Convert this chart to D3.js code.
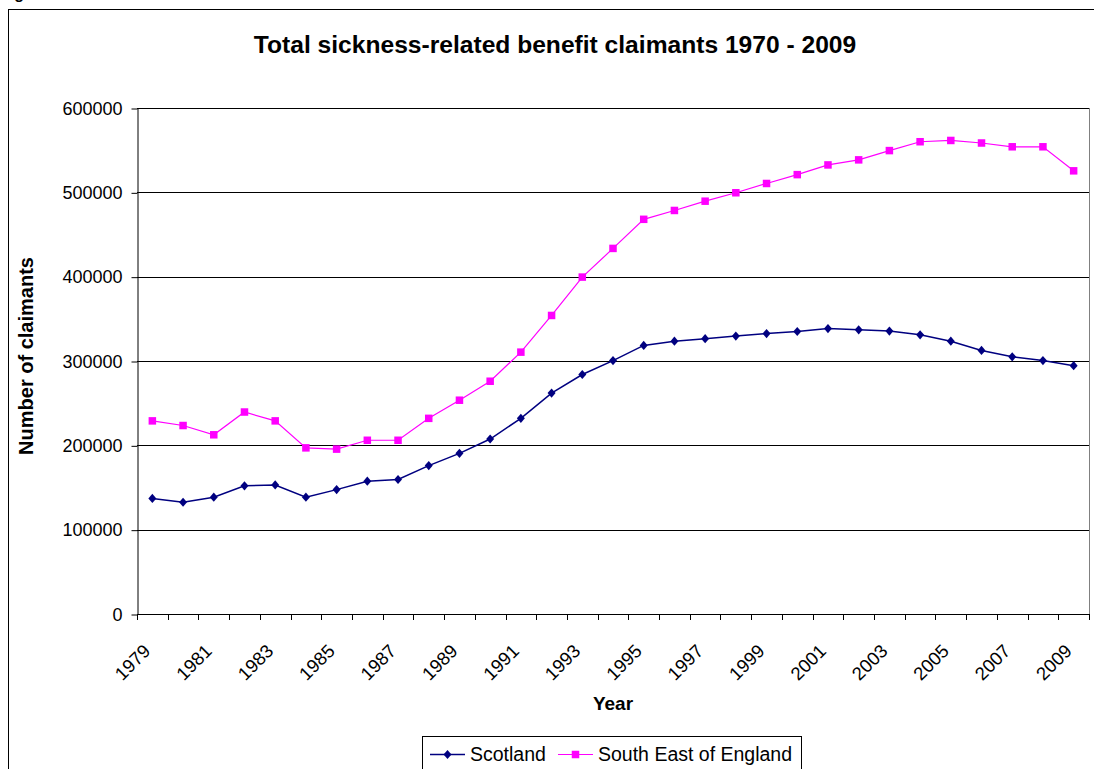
<!DOCTYPE html>
<html>
<head>
<meta charset="utf-8">
<script src="https://cdn.jsdelivr.net/npm/d3@7"></script>
<style>
  html, body { margin: 0; padding: 0; background: #fff; }
  svg { display: block; font-family: Arial, "Liberation Sans", sans-serif; }
</style>
</head>
<body>
<svg id="chart" width="1094" height="769"></svg>
<script>
// Claimant counts by year (1979–2009)
const years = d3.range(1979, 2010);
const scotland = [
  137000, 132500, 138500, 152000, 153000, 138500, 147500, 157500, 159500, 176000,
  190500, 207500, 232000, 262000, 284000, 300500, 318500, 323500, 326500, 329500,
  332500, 335000, 338500, 337000, 335500, 331000, 323500, 312500, 305000, 300500,
  294500
];
const southEast = [
  229000, 223500, 212500, 239500, 229000, 197000, 195500, 206000, 206000, 232000,
  253500, 276000, 310500, 354000, 399500, 433500, 468000, 478500, 489500, 499500,
  510500, 521000, 532500, 538500, 549500, 560000, 561500, 558500, 554000, 554000,
  525500
];
const yTicks = [0, 100000, 200000, 300000, 400000, 500000, 600000];
const seriesNames = ["Scotland", "South East of England"];
const seriesColors = ["#000080", "#FF00FF"];

const svg = d3.select("#chart");
const plot = { left: 137, right: 1089, top: 108, bottom: 614 };

// Outer chart frame (runs off the right and bottom edges)
svg.append("rect")
  .attr("x", 8.5).attr("y", 9.5)
  .attr("width", 1200).attr("height", 900)
  .attr("fill", "none").attr("stroke", "#000").attr("stroke-width", 1);

// Caption above the frame
svg.append("text")
  .attr("x", 0).attr("y", -1)
  .attr("font-size", 16).attr("font-weight", "bold")
  .text("Figure");

const x = d3.scaleBand().domain(years).range([plot.left, plot.right]);
const y = d3.scaleLinear().domain([0, 600000]).range([plot.bottom, plot.top]);
const cx = d => x(d) + x.bandwidth() / 2;

// Title
svg.append("text")
  .attr("x", 555).attr("y", 53)
  .attr("text-anchor", "middle")
  .attr("font-size", 24.6).attr("font-weight", "bold")
  .text("Total sickness-related benefit claimants 1970 - 2009");

// Horizontal gridlines
svg.append("g").selectAll("line")
  .data(yTicks.filter(t => t > 0))
  .join("line")
  .attr("x1", plot.left).attr("x2", plot.right)
  .attr("y1", d => Math.round(y(d)) + 0.5).attr("y2", d => Math.round(y(d)) + 0.5)
  .attr("stroke", "#000").attr("stroke-width", 1);

// Plot area right edge
svg.append("line")
  .attr("x1", plot.right + 0.5).attr("x2", plot.right + 0.5)
  .attr("y1", plot.top).attr("y2", plot.bottom)
  .attr("stroke", "#808080");

// Y axis
const yAxis = svg.append("g")
  .attr("transform", `translate(${plot.left + 0.5},0.5)`)
  .call(d3.axisLeft(y).tickValues(yTicks).tickFormat(d3.format("d"))
    .tickSize(6).tickSizeOuter(0).tickPadding(9));
yAxis.select(".domain").attr("stroke", "#000");
yAxis.selectAll(".tick line").attr("stroke", "#000");
yAxis.selectAll("text").attr("font-size", 18).attr("fill", "#000")
  .attr("font-family", "Arial, 'Liberation Sans', sans-serif");

// X axis: baseline, boundary ticks and rotated labels
const xAxis = svg.append("g");
xAxis.append("line")
  .attr("x1", plot.left).attr("x2", plot.right + 1)
  .attr("y1", plot.bottom + 0.5).attr("y2", plot.bottom + 0.5)
  .attr("stroke", "#000");
const boundaries = years.map(d => x(d)).concat([plot.right]);
xAxis.selectAll("line.tick")
  .data(boundaries)
  .join("line").attr("class", "tick")
  .attr("x1", d => Math.round(d) + 0.5).attr("x2", d => Math.round(d) + 0.5)
  .attr("y1", plot.bottom).attr("y2", plot.bottom + 6)
  .attr("stroke", "#000");
xAxis.selectAll("text")
  .data(years.filter((d, i) => i % 2 === 0))
  .join("text")
  .attr("transform", d => `translate(${cx(d) - 10},${plot.bottom + 29}) rotate(-45)`)
  .attr("text-anchor", "end")
  .attr("dy", "0.71em")
  .attr("font-size", 18.5)
  .text(d => d);

// Axis titles
svg.append("text")
  .attr("x", 613).attr("y", 710)
  .attr("text-anchor", "middle")
  .attr("font-size", 19).attr("font-weight", "bold")
  .text("Year");
svg.append("text")
  .attr("transform", `translate(33,${(plot.top + plot.bottom) / 2 - 5}) rotate(-90)`)
  .attr("text-anchor", "middle")
  .attr("font-size", 20).attr("font-weight", "bold")
  .text("Number of claimants");

// Series lines and markers
const line = d3.line().x((d, i) => cx(years[i])).y(d => y(d));
const diamondPath = "M0,-4.6L4,0L0,4.6L-4,0Z";

svg.append("path")
  .datum(scotland)
  .attr("d", line)
  .attr("fill", "none").attr("stroke", seriesColors[0]).attr("stroke-width", 1.5);
svg.append("path")
  .datum(southEast)
  .attr("d", line)
  .attr("fill", "none").attr("stroke", seriesColors[1]).attr("stroke-width", 1.2);

svg.append("g").selectAll("path")
  .data(scotland)
  .join("path")
  .attr("transform", (d, i) => `translate(${cx(years[i])},${y(d)})`)
  .attr("d", diamondPath)
  .attr("fill", seriesColors[0]);

svg.append("g").selectAll("rect")
  .data(southEast)
  .join("rect")
  .attr("x", (d, i) => cx(years[i]) - 3.75)
  .attr("y", d => y(d) - 3.75)
  .attr("width", 7.5).attr("height", 7.5)
  .attr("fill", seriesColors[1]);

// Legend
const legend = svg.append("g");
legend.append("rect")
  .attr("x", 422.5).attr("y", 736.5)
  .attr("width", 379).attr("height", 60)
  .attr("fill", "#fff").attr("stroke", "#000");
const legendItems = [
  { x0: 430, name: seriesNames[0], color: seriesColors[0], marker: "diamond" },
  { x0: 558, name: seriesNames[1], color: seriesColors[1], marker: "square" }
];
legendItems.forEach(item => {
  const g = legend.append("g");
  g.append("line")
    .attr("x1", item.x0).attr("x2", item.x0 + 35)
    .attr("y1", 754.5).attr("y2", 754.5)
    .attr("stroke", item.color).attr("stroke-width", item.marker === "diamond" ? 1.5 : 1.2);
  if (item.marker === "diamond") {
    g.append("path")
      .attr("transform", `translate(${item.x0 + 17.5},754.5)`)
      .attr("d", diamondPath).attr("fill", item.color);
  } else {
    g.append("rect")
      .attr("x", item.x0 + 13.75).attr("y", 750.75)
      .attr("width", 7.5).attr("height", 7.5).attr("fill", item.color);
  }
  g.append("text")
    .attr("x", item.x0 + 40).attr("y", 761)
    .attr("font-size", 19.5)
    .text(item.name);
});
</script>
</body>
</html>
